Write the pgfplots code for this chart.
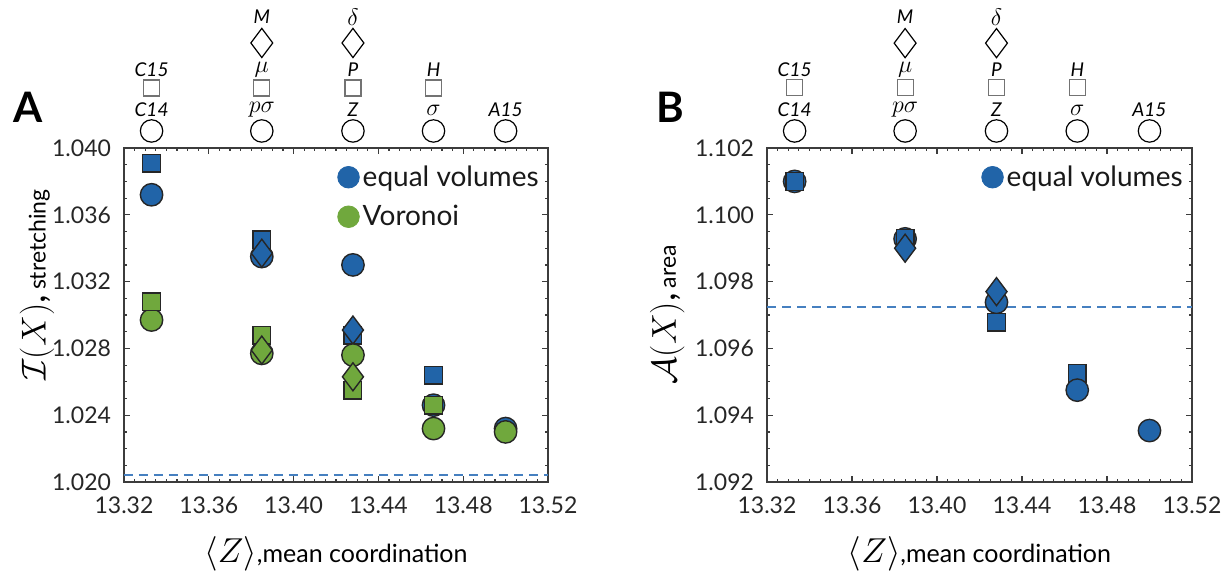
\documentclass[border=0pt]{standalone}
\usepackage{pgfplots}
\pgfplotsset{compat=1.18}
\usepackage{fontspec}
\setmainfont{Lato}
\definecolor{cblue}{RGB}{33,100,168}
\definecolor{cgreen}{RGB}{112,168,61}
\definecolor{cdash}{RGB}{70,128,192}
\definecolor{cframe}{RGB}{60,60,60}
\pgfplotsset{
  panel/.style={
    scale only axis, width=212pt, height=167pt,
    xmin=13.32, xmax=13.52,
    xtick={13.32,13.36,13.40,13.44,13.48,13.52},
    minor x tick num=7, minor y tick num=3,
    axis line style={cframe, line width=1pt},
    major tick length=3pt, minor tick length=1.6pt,
    every tick/.style={cframe, line width=0.6pt},
    tick align=inside,
    clip=false,
    scaled x ticks=false, scaled y ticks=false,
    ticklabel style={font=\fontsize{11.5}{13}\selectfont, text=black!85},
    /pgf/number format/assume math mode=true,
    xticklabel style={/pgf/number format/fixed, /pgf/number format/fixed zerofill, /pgf/number format/precision=2, yshift=-4pt},
    yticklabel style={/pgf/number format/fixed, /pgf/number format/fixed zerofill, /pgf/number format/precision=3, xshift=-3pt},
    xlabel={{\fontsize{19}{22}\selectfont$\langle Z\rangle$}{\fontsize{12.5}{14}\selectfont,mean coordination}},
    xlabel style={at={(axis description cs:0.5,-0.24)}, anchor=base},
    legend style={draw=none, fill=none, at={(1,1)}, anchor=north east, xshift=-2pt, yshift=-6pt,
      font=\fontsize{14}{15}\selectfont, row sep=5pt, inner sep=1pt, text=black!90,
      nodes={inner sep=1.5pt}},
    legend cell align=left,
  },
  cm/.style={only marks, mark=*, mark size=5.6pt, mark options={draw=black!85, line width=0.7pt, fill=#1}},
  sm/.style={only marks, mark=square*, mark size=4.4pt, mark options={draw=black!85, line width=0.7pt, fill=#1}},
  dm/.style={only marks, mark=diamond*, mark size=7pt, mark options={draw=black!85, line width=0.7pt, fill=#1}},
  keyc/.style={only marks, mark=*, mark size=5.6pt, mark options={draw=black, line width=0.6pt, fill=white},
    nodes near coords, point meta=explicit symbolic,
    every node near coord/.style={anchor=center, yshift=10.5pt, font=\fontsize{9.5}{10}\selectfont\itshape, text=black}},
  keys/.style={only marks, mark=square*, mark size=4pt, mark options={draw=black!55, line width=0.6pt, fill=white},
    nodes near coords, point meta=explicit symbolic,
    every node near coord/.style={anchor=center, yshift=9pt, font=\fontsize{9.5}{10}\selectfont\itshape, text=black}},
  keyd/.style={only marks, mark=diamond*, mark size=7.3pt, mark options={draw=black, line width=0.6pt, fill=white},
    nodes near coords, point meta=explicit symbolic,
    every node near coord/.style={anchor=center, yshift=13pt, font=\fontsize{9.5}{10}\selectfont\itshape, text=black}},
}
\newcommand{\km}[1]{{\fontsize{12}{12}\selectfont$#1$}}
\begin{document}
\begin{tikzpicture}
\path[use as bounding box] (0,0) rectangle (611.5pt,-292pt);
\node[font=\fontsize{21}{24}\selectfont\bfseries] at (14pt,-53.5pt) {A};
\node[font=\fontsize{21}{24}\selectfont\bfseries] at (335pt,-53.5pt) {B};
% ---------------- Panel A ----------------
\begin{axis}[panel, at={(62pt,-241pt)}, anchor=south west,
  ymin=1.020, ymax=1.040,
  ytick={1.020,1.024,1.028,1.032,1.036,1.040},
  ylabel={{\fontsize{19}{22}\selectfont$\mathcal{I}(X)$,} {\fontsize{11.5}{14}\selectfont stretching}},
  ylabel style={at={(axis description cs:-0.205,0.59)}, anchor=center, rotate=0},
]
\addlegendimage{legend image code/.code={\fill[cblue] (0pt,0pt) circle (5.4pt);}}
\addlegendentry{equal volumes}
\addlegendimage{legend image code/.code={\fill[cgreen] (0pt,0pt) circle (5.4pt);}}
\addlegendentry{Voronoi}
\addplot[cdash, line width=1pt, dash pattern=on 4.5pt off 3pt, forget plot] coordinates {(13.32,1.0204) (13.52,1.0204)};
% equal volumes
\addplot[cm=cblue, forget plot] coordinates {(13.333,1.0372) (13.385,1.0335) (13.428,1.0330) (13.466,1.0246) (13.5,1.0232)};
\addplot[sm=cblue, forget plot] coordinates {(13.333,1.0391) (13.385,1.0345) (13.428,1.0288) (13.466,1.0264)};
\addplot[dm=cblue, forget plot] coordinates {(13.385,1.0337) (13.428,1.0291)};
% Voronoi
\addplot[cm=cgreen, forget plot] coordinates {(13.333,1.0297) (13.385,1.0277) (13.428,1.0276) (13.466,1.0232) (13.5,1.0230)};
\addplot[sm=cgreen, forget plot] coordinates {(13.333,1.0308) (13.385,1.0288) (13.428,1.0255) (13.466,1.0246)};
\addplot[dm=cgreen, forget plot] coordinates {(13.385,1.0279) (13.428,1.0263)};
% key
\addplot[keyc, forget plot] coordinates {(13.333,1.04102) [C14] (13.385,1.04102) [{\km{p\sigma}}] (13.428,1.04102) [Z] (13.466,1.04102) [{\km{\sigma}}] (13.5,1.04102) [A15]};
\addplot[keys, forget plot] coordinates {(13.333,1.04359) [C15] (13.385,1.04359) [{\km{\mu}}] (13.428,1.04359) [P] (13.466,1.04359) [H]};
\addplot[keyd, forget plot] coordinates {(13.385,1.04629) [M] (13.428,1.04629) [{\km{\delta}}]};
\end{axis}
% ---------------- Panel B ----------------
\begin{axis}[panel, at={(383.5pt,-241pt)}, anchor=south west, width=212.5pt,
  ymin=1.092, ymax=1.102,
  ytick={1.092,1.094,1.096,1.098,1.100,1.102},
  ylabel={{\fontsize{19}{22}\selectfont$\mathcal{A}(X)$,} {\fontsize{11.5}{14}\selectfont area}},
  ylabel style={at={(axis description cs:-0.235,0.5)}, anchor=center, rotate=0},
]
\addlegendimage{legend image code/.code={\fill[cblue] (0pt,0pt) circle (5.4pt);}}
\addlegendentry{equal volumes}
\addplot[cdash, line width=1pt, dash pattern=on 4.5pt off 3pt, forget plot] coordinates {(13.32,1.09725) (13.52,1.09725)};
\addplot[cm=cblue, forget plot] coordinates {(13.333,1.1010) (13.385,1.09928) (13.428,1.09738)};
\addplot[sm=cblue, forget plot] coordinates {(13.333,1.1010) (13.385,1.0993) (13.428,1.09678) (13.466,1.09525)};
\addplot[dm=cblue, forget plot] coordinates {(13.385,1.0990) (13.428,1.0977)};
\addplot[cm=cblue, forget plot] coordinates {(13.466,1.09475) (13.5,1.09354)};
% key
\addplot[keyc, forget plot] coordinates {(13.333,1.10251) [C14] (13.385,1.10251) [{\km{p\sigma}}] (13.428,1.10251) [Z] (13.466,1.10251) [{\km{\sigma}}] (13.5,1.10251) [A15]};
\addplot[keys, forget plot] coordinates {(13.333,1.10380) [C15] (13.385,1.10380) [{\km{\mu}}] (13.428,1.10380) [P] (13.466,1.10380) [H]};
\addplot[keyd, forget plot] coordinates {(13.385,1.10514) [M] (13.428,1.10514) [{\km{\delta}}]};
\end{axis}
\end{tikzpicture}
\end{document}
